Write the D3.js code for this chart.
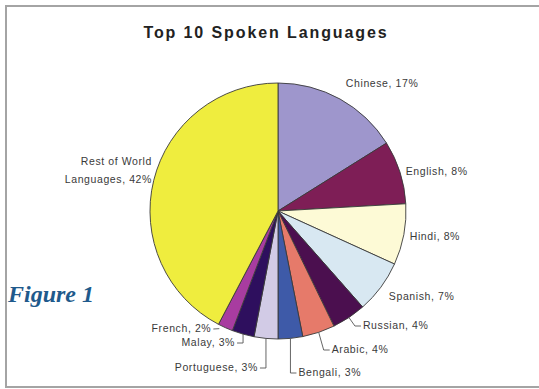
<!DOCTYPE html>
<html><head><meta charset="utf-8">
<script src="https://cdn.jsdelivr.net/npm/d3@7"></script>
<style>html,body{margin:0;padding:0;background:#fff;}svg{display:block;}</style>
</head><body>
<script>
const languages = ["Chinese","English","Hindi","Spanish","Russian","Arabic","Bengali","Portuguese","Malay","French","Rest of World Languages"];
const shares = [16.1, 8.0, 7.7, 6.7, 4.3, 4.1, 3.1, 3.0, 2.8, 1.9, 42.3];
const percentLabels = ["17%","8%","8%","7%","4%","4%","3%","3%","3%","2%","42%"];
const colors = ["#9e96cc","#7e1e56","#fdfad6","#d8e8f2","#4b0f4f","#e67a6a","#3e5aa8","#d2cbe6","#2e0f5e","#a83ca0","#efed3e"];

const W = 539, H = 389;
const svg = d3.select("body").append("svg").attr("width", W).attr("height", H);

// frame
svg.append("path").attr("d", `M${W},6 H6 V387 H${W}`).attr("fill","none").attr("stroke","#a4a4a4").attr("stroke-width",2);

svg.append("text").attr("x",266).attr("y",38).attr("text-anchor","middle")
  .attr("font-family","Liberation Sans, Arial, sans-serif").attr("font-weight","bold")
  .attr("font-size",16).attr("letter-spacing",1.9).attr("fill","#222").text("Top 10 Spoken Languages");

svg.append("text").attr("x",8).attr("y",302)
  .attr("font-family","Liberation Serif, Times New Roman, serif").attr("font-weight","bold").attr("font-style","italic")
  .attr("font-size",24).attr("fill","#1f5a8c").text("Figure 1");

const cx = 278, cy = 211, r = 128;
const pie = d3.pie().sort(null).value(d => d)(shares);
const arc = d3.arc().innerRadius(0).outerRadius(r);
const g = svg.append("g").attr("transform",`translate(${cx},${cy})`);
g.selectAll("path").data(pie).join("path")
  .attr("d", arc).attr("fill",(d,i)=>colors[i]).attr("stroke","#3a3a3a").attr("stroke-width",0.9);

const font = {family:"Liberation Sans, Arial, sans-serif", size:10.5};
function label(x, y, txt, anchor){
  return svg.append("text").attr("x",x).attr("y",y).attr("text-anchor",anchor||"start")
    .attr("font-family",font.family).attr("font-size",font.size).attr("letter-spacing",0.6)
    .attr("fill","#3a3a3a").attr("dominant-baseline","middle").text(txt);
}
function pt(d, rad){ const a = (d.startAngle + d.endAngle)/2; return [cx + rad*Math.sin(a), cy - rad*Math.cos(a)]; }

// right-side labels without leaders
[0,1,2,3].forEach(i=>{
  const [x,y] = pt(pie[i], r+ (i===0?12:(i===3?10:6)));
  label(x, y + (i===0?-4:(i===3?4:2)), `${languages[i]}, ${percentLabels[i]}`);
});

// bottom labels with leader lines: [index, labelY, horizontal direction]
const leaders = [[4,326,1],[5,350,1],[6,373,1],[7,368,-1],[8,343,-1],[9,329,-1]];
leaders.forEach(([i,ly,dir])=>{
  const [x0,y0] = pt(pie[i], r);
  const xm = x0 + (i===4?6:(i===5?5:0));
  let path;
  if (i===9) path = `M${x0-6},${y0+1} L${x0-12},${ly}`;
  else path = `M${x0},${y0} L${xm},${ly} L${xm+dir*6},${ly}`;
  svg.append("path").attr("d",path).attr("fill","none").attr("stroke","#555").attr("stroke-width",0.9);
  const lx = (i===9) ? x0-14 : xm + dir*8;
  label(lx, ly, `${languages[i]}, ${percentLabels[i]}`, dir>0?"start":"end");
});

// Rest of world label (two lines)
const restText = label(152, 162, "", "end");
restText.append("tspan").attr("x",152).attr("dy",0).text("Rest of World");
restText.append("tspan").attr("x",152).attr("dy",18).text(`Languages, ${percentLabels[10]}`);
</script>
</body></html>
